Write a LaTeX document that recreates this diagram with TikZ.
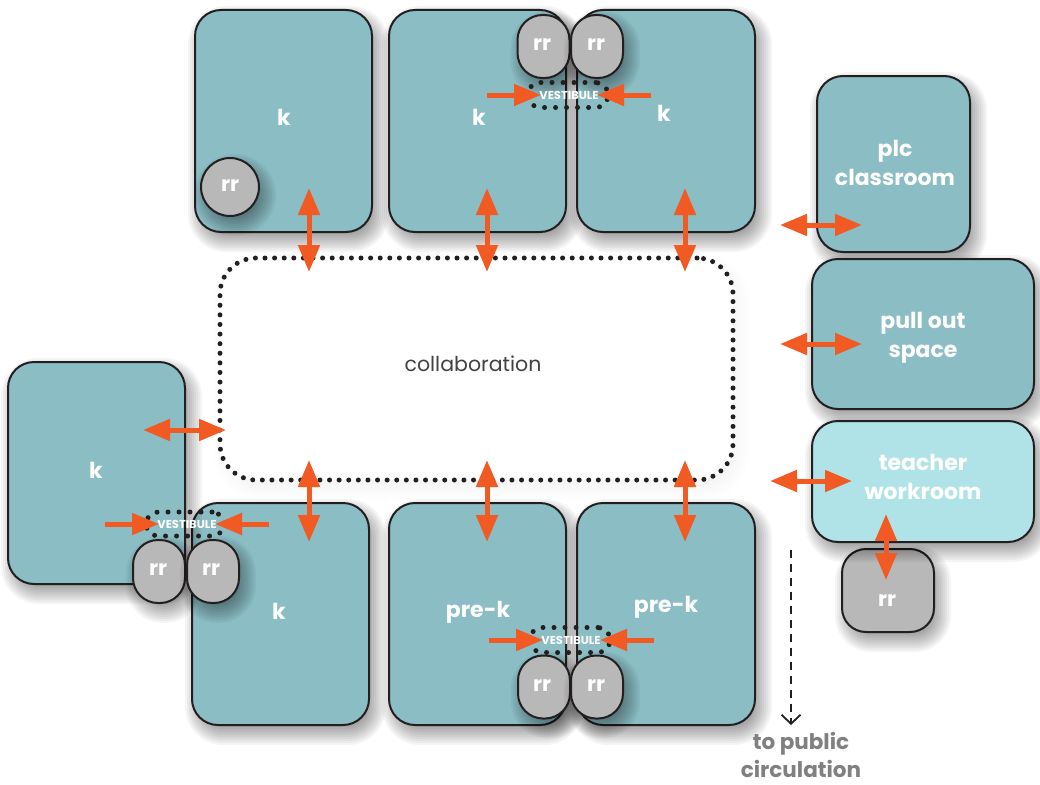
\documentclass[tikz,border=0pt]{standalone}
\usepackage{fontspec}
\setmainfont{Poppins}
\usetikzlibrary{arrows.meta}
\definecolor{teal}{HTML}{8ABDC4}
\definecolor{lightteal}{HTML}{B0E3E7}
\definecolor{rrgray}{HTML}{B8B8B8}
\definecolor{edge}{HTML}{231F20}
\definecolor{orangearrow}{HTML}{F15A22}
\definecolor{capgray}{HTML}{808080}
\tikzset{
 x=1pt,y=-1pt,
 room/.style={draw=edge,line width=2pt,fill=teal,rounded corners=26pt,inner sep=0pt},
 workroom/.style={room,fill=lightteal},
 rrbox/.style={draw=edge,line width=2pt,fill=rrgray,rounded corners=25pt,inner sep=0pt,minimum width=52pt,minimum height=63pt},
 rrlarge/.style={rrbox,rounded corners=24pt,minimum width=92pt,minimum height=83pt},
 rrround/.style={rrbox,circle,minimum size=58pt,rounded corners=0pt},
 lab/.style={text=white,font=\bfseries\fontsize{22}{29}\selectfont,align=center,inner sep=0pt},
 smalllab/.style={text=white,font=\bfseries\fontsize{21}{24}\selectfont,inner sep=0pt},
 vest/.style={draw=edge,line width=5pt,line cap=round,dash pattern=on 0pt off 11pt,rounded corners=12pt,inner sep=0pt,minimum width=80pt,minimum height=25pt},
 vesttext/.style={text=white,font=\bfseries\fontsize{11.5}{13}\selectfont,inner sep=0pt},
 collab/.style={draw=edge,line width=5pt,line cap=round,dash pattern=on 0pt off 9.6pt,fill=white,rounded corners=36pt,inner sep=0pt},
 twoway/.style={draw=orangearrow,line width=5pt,{Triangle[length=27pt,width=21pt,fill=orangearrow]}-{Triangle[length=27pt,width=21pt,fill=orangearrow]}},
 oneway/.style={draw=orangearrow,line width=5pt,-{Triangle[length=27pt,width=21pt,fill=orangearrow]}},
 exitline/.style={draw=edge,line width=1.8pt,dash pattern=on 8pt off 6pt,-{Straight Barb[length=9pt,width=19pt,line width=1.8pt]}},
 caption/.style={text=capgray,font=\bfseries\fontsize{21.5}{28}\selectfont,align=center,inner sep=0pt}
}
% soft shadow: stacked translucent rounded rectangles. args: cx, cy, w, h, radius, opacity
\newcommand{\softbox}[6]{%
 \foreach \g in {-8,-6,-4,-2,0,2,4,6,8,10,12}{%
  \pgfmathsetmacro{\rr}{max(1,#5+\g)}%
  \fill[black,opacity=#6,rounded corners=\rr pt]
   ({#1-#3/2-\g+5},{#2-#4/2-\g+8}) rectangle ({#1+#3/2+\g+5},{#2+#4/2+\g+8});
 }}
\newcommand{\roomshadow}[5]{\softbox{#1}{#2}{#3}{#4}{#5}{0.04}}
\begin{document}
\begin{tikzpicture}
\useasboundingbox (0,0) rectangle (1040,784);
\fill[white] (0,0) rectangle (1040,784);
\begin{scope}
\clip (0,0) rectangle (1040,784);
% rooms
\roomshadow{283.5}{121}{177}{222}{26}
\node[room,minimum width=177pt,minimum height=222pt] (k1) at (283.5,121) {};
\roomshadow{477.5}{121}{177}{222}{26}
\node[room,minimum width=177pt,minimum height=222pt] (k2) at (477.5,121) {};
\roomshadow{666}{121}{178}{222}{26}
\node[room,minimum width=178pt,minimum height=222pt] (k3) at (666,121) {};
\roomshadow{893.5}{164}{153}{176}{26}
\node[room,minimum width=153pt,minimum height=176pt] (plc) at (893.5,164) {};
\roomshadow{923}{334}{222}{150}{26}
\node[room,minimum width=222pt,minimum height=150pt] (pull) at (923,334) {};
\roomshadow{888}{590.5}{92}{83}{24}
\node[rrlarge] (rrw) at (888,590.5) {};
\roomshadow{923}{481.5}{222}{121}{26}
\node[workroom,minimum width=222pt,minimum height=121pt] (work) at (923,481.5) {};
\roomshadow{280.5}{614}{177}{222}{26}
\node[room,minimum width=177pt,minimum height=222pt] (k5) at (280.5,614) {};
\roomshadow{96.5}{473}{177}{222}{26}
\node[room,minimum width=177pt,minimum height=222pt] (k4) at (96.5,473) {};
\roomshadow{477.5}{614}{177}{222}{26}
\node[room,minimum width=177pt,minimum height=222pt] (pk1) at (477.5,614) {};
\roomshadow{666}{614}{178}{222}{26}
\node[room,minimum width=178pt,minimum height=222pt] (pk2) at (666,614) {};
\softbox{476.5}{369}{513}{222}{36}{0.004}
\node[collab,minimum width=513pt,minimum height=222pt] (col) at (476.5,369) {};
% restrooms
\roomshadow{230}{187}{58}{58}{29}
\node[rrround] (rr1) at (230,187) {};
\roomshadow{543.5}{46.5}{52}{63}{25}
\node[rrbox] (rr2) at (543.5,46.5) {};
\roomshadow{597}{46.5}{52}{63}{25}
\node[rrbox] (rr3) at (597,46.5) {};
\roomshadow{159}{571.5}{52}{63}{25}
\node[rrbox] (rr4) at (159,571.5) {};
\roomshadow{213}{571.5}{52}{63}{25}
\node[rrbox] (rr5) at (213,571.5) {};
\roomshadow{544}{687}{52}{63}{25}
\node[rrbox] (rr6) at (544,687) {};
\roomshadow{597}{687}{52}{63}{25}
\node[rrbox] (rr7) at (597,687) {};
\end{scope}
% vestibules
\node[vest] (v1) at (568,95) {};
\node[vest,minimum width=78pt,minimum height=24pt] (v2) at (185,524) {};
\node[vest] (v3) at (570,640) {};
\node[vesttext] (v1t) at (569,95) {VESTIBULE};
\node[vesttext] (v2t) at (187,524) {VESTIBULE};
\node[vesttext] (v3t) at (571,640) {VESTIBULE};
% labels
\node[lab] (t1) at (284,117) {k};
\node[lab] (t2) at (479,117) {k};
\node[lab] (t3) at (664,113) {k};
\node[lab] (t4) at (895,163) {plc\\classroom};
\node[lab] (t5) at (923,338) {pull out\\space};
\node[lab] (t6) at (923,476.5) {teacher\\workroom};
\node[lab] (t7) at (96,470) {k};
\node[lab] (t8) at (279,611) {k};
\node[lab] (t9) at (478,612) {pre-k};
\node[lab] (t10) at (666,607) {pre-k};
\node[smalllab] (r1) at (230,186) {rr};
\node[smalllab] (r2) at (542,45) {rr};
\node[smalllab] (r3) at (596,45) {rr};
\node[smalllab] (r4) at (158,570) {rr};
\node[smalllab] (r5) at (211,570) {rr};
\node[smalllab] (r6) at (542,686) {rr};
\node[smalllab] (r7) at (596,686) {rr};
\node[smalllab] (r8) at (887,601) {rr};
\node[inner sep=0pt,text=edge!85,font=\fontsize{20.5}{24}\selectfont] (ct) at (473,364) {collaboration};
\node[caption] (cap) at (801,755) {to public\\circulation};
% connector ends
\foreach \n/\x/\y in {a1/309/188,a2/309/272,a3/487/188,a4/487/272,a5/685/188,a6/685/272,
 b1/309/460,b2/309/542,b3/487/460,b4/487/542,b5/685/460,b6/685/542,
 c1/780/225,c2/862/225,c3/780/344,c4/862/344,c5/770/481,c6/852/481,c7/143/430,c8/226/430,
 d1/886/514,d2/886/580,
 e1/487/95,e2/541/95,e3/651/95,e4/597/95,e5/105/524,e6/159/524,e7/269/524,e8/215/524,
 e9/489/640,e10/543/640,e11/654/640,e12/600/640,
 f1/791/550,f2/791/725}
 {\coordinate (\n) at (\x,\y);}
% connectors
\draw[twoway] (a1) -- (a2);
\draw[twoway] (a3) -- (a4);
\draw[twoway] (a5) -- (a6);
\draw[twoway] (b1) -- (b2);
\draw[twoway] (b3) -- (b4);
\draw[twoway] (b5) -- (b6);
\draw[twoway] (c1) -- (c2);
\draw[twoway] (c3) -- (c4);
\draw[twoway] (c5) -- (c6);
\draw[twoway] (c7) -- (c8);
\draw[twoway] (d1) -- (d2);
\draw[oneway] (e1) -- (e2);
\draw[oneway] (e3) -- (e4);
\draw[oneway] (e5) -- (e6);
\draw[oneway] (e7) -- (e8);
\draw[oneway] (e9) -- (e10);
\draw[oneway] (e11) -- (e12);
\draw[exitline] (f1) -- (f2);
\end{tikzpicture}
\end{document}
